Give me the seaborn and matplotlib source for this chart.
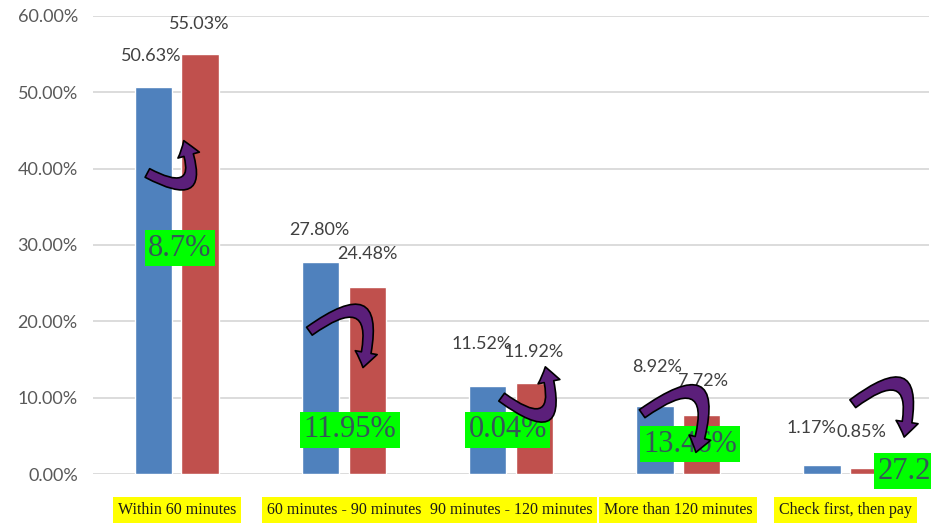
import numpy as np
import pandas as pd
import matplotlib
matplotlib.use('Agg')
import matplotlib.pyplot as plt
import seaborn as sns
from matplotlib.patches import FancyArrowPatch
from matplotlib.ticker import PercentFormatter

# data
categories = ['Within 60 minutes', '60 minutes - 90 minutes', '90 minutes - 120 minutes',
              'More than 120 minutes', 'Check first, then pay']
series_a = [50.63, 27.80, 11.52, 8.92, 1.17]
series_b = [55.03, 24.48, 11.92, 7.72, 0.85]
change_labels = ['8.7%', '11.95%', '0.04%', '13.46%', '27.2']

df = pd.DataFrame({
    'category': categories * 2,
    'share': series_a + series_b,
    'group': ['A'] * len(categories) + ['B'] * len(categories),
})

sns.set_style('white')
fig = plt.figure(figsize=(9.31, 5.28), dpi=100)
ax = fig.add_axes([0.1, 0.102, 0.898, 0.868])

sns.barplot(data=df, x='category', y='share', hue='group', palette=['#4F81BD', '#C0504D'],
            width=0.56, gap=0.2, saturation=1, legend=False, ax=ax)

ax.set_ylim(0, 60)
ax.set_yticks(np.arange(0, 61, 10))
ax.yaxis.set_major_formatter(PercentFormatter(decimals=2))
ax.yaxis.grid(True, color='#D9D9D9', lw=1.3)
ax.set_axisbelow(True)
for s in ax.spines.values():
    s.set_visible(False)
ax.set_xlabel('')
ax.set_ylabel('')
ax.tick_params(axis='y', length=0, pad=11, labelsize=13, labelcolor='#595959')
ax.tick_params(axis='x', length=0, pad=20)
for t in ax.get_yticklabels():
    t.set_family('Lato')
for t in ax.get_xticklabels():
    t.set_family('Liberation Serif')
    t.set_fontsize(11.5)
    t.set_color('#1a1a1a')
    t.set_bbox(dict(facecolor='#FFFF00', edgecolor='none', pad=3.5))

# value labels above bars (pixel nudges from bar top-centre)
label_nudge = [(-2, 31), (-1, 30), (-1, 32), (0, 33), (-6, 42),
               (-1, 31), (2, 39), (1, 34), (-11, 37), (-8, 36)]
bars = sorted(ax.patches, key=lambda p: p.get_x())
values = [v for pair in zip(series_a, series_b) for v in pair]
for bar, v, (dx, dy) in zip(bars, values, label_nudge):
    ax.annotate(f'{v:.2f}%', (bar.get_x() + bar.get_width() / 2, v),
                xytext=(dx * 0.72, dy * 0.72), textcoords='offset points',
                ha='center', va='center', fontsize=13, family='Lato', color='#404040',
                zorder=4, annotation_clip=False)

# green change boxes
box_pos = [(0.018, 29.6, 'center'), (1.036, 5.8, 'center'), (1.98, 5.8, 'center'),
           (3.07, 3.9, 'center'), (4.19, 0.4, 'left')]
for (x, y, ha), s in zip(box_pos, change_labels):
    ax.text(x, y, s, ha=ha, va='center', fontsize=22, family='Liberation Serif',
            color='#355757', zorder=5, clip_on=False,
            bbox=dict(facecolor='#00FF00', edgecolor='none', pad=2.5))

# purple curved arrows
arrows = [((-0.19, 39.6), (0.036, 44.0), 1.4),
          ((0.78, 18.5), (1.11, 13.6), -1.4),
          ((1.93, 10.3), (2.20, 14.4), 1.5),
          ((2.77, 7.7), (3.10, 2.5), -1.5),
          ((4.03, 9.0), (4.347, 4.5), -1.4)]
for tail, head, rad in arrows:
    ar = FancyArrowPatch(tail, head, connectionstyle=f'arc3,rad={rad}',
                         arrowstyle='simple,head_width=1.6,head_length=1.1,tail_width=0.7',
                         mutation_scale=10, fc='#5B1F7A', ec='black', lw=1.2,
                         zorder=6, clip_on=False)
    ax.add_patch(ar)

fig.savefig('out.png', dpi=100)
